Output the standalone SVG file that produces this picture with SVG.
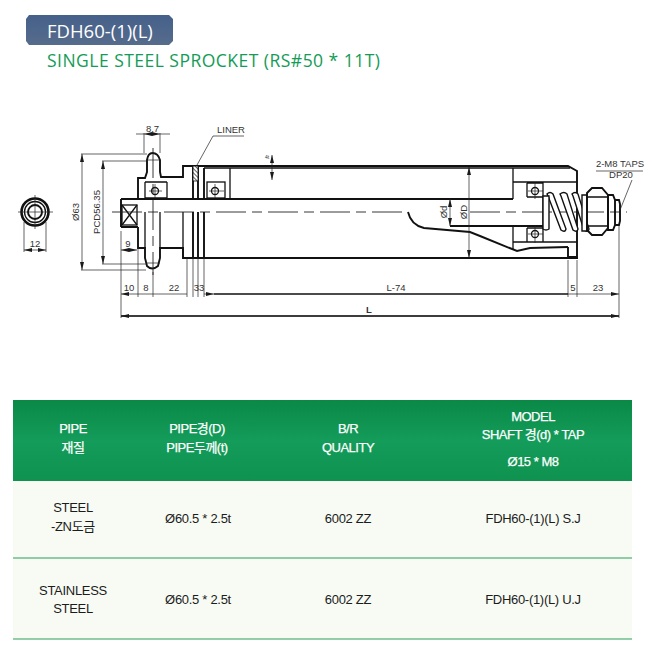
<svg xmlns="http://www.w3.org/2000/svg" width="647" height="655" viewBox="0 0 647 655">
<style>
.l{fill:none;stroke:#111;stroke-width:1.3}
.h{fill:none;stroke:#111;stroke-width:1.9}
.t{fill:none;stroke:#222;stroke-width:.7}
.c{fill:none;stroke:#222;stroke-width:.9;stroke-dasharray:30 6 10 6}
.d{font-family:"Liberation Sans",sans-serif;font-size:9.5px;fill:#333;text-anchor:middle}
.w{font-family:"Liberation Sans","Noto Sans CJK KR",sans-serif;font-size:13px;fill:#fff;text-anchor:middle;letter-spacing:-.5px;stroke:#fff;stroke-width:.25}
.b{font-family:"Liberation Sans","Noto Sans CJK KR",sans-serif;font-size:13px;fill:#1c1c1c;text-anchor:middle;letter-spacing:-.3px}
</style>
<defs>
<linearGradient id="hd" x1="0" y1="0" x2="0" y2="1"><stop offset="0" stop-color="#0a8846"/><stop offset=".5" stop-color="#149c5a"/><stop offset="1" stop-color="#0f9250"/></linearGradient>
<linearGradient id="bg" x1="0" y1="0" x2="0" y2="1"><stop offset="0" stop-color="#45608a"/><stop offset="1" stop-color="#566c8c"/></linearGradient>
<marker id="a" viewBox="0 0 8 4" refX="8" refY="2" markerWidth="8" markerHeight="4" orient="auto-start-reverse" markerUnits="userSpaceOnUse"><path d="M0 0L8 2L0 4z" fill="#1a1a1a"/></marker>
<pattern id="ha" width="3" height="3" patternUnits="userSpaceOnUse" patternTransform="rotate(45)"><rect width="3" height="3" fill="#fff"/><line x1="0" y1="0" x2="3" y2="0" stroke="#111" stroke-width="1.3"/></pattern>
</defs>
<rect width="647" height="655" fill="#fff"/>
<path d="M29 15H169L173 19V41L169 45H29L26 41V19Z" fill="url(#bg)"/>
<text x="47" y="38" font-family="'Open Sans','Noto Sans',sans-serif" font-size="18.500" fill="#fff">FDH60-(1)(L)</text>
<text x="47" y="67" font-family="'Open Sans','Noto Sans',sans-serif" font-size="17.500" fill="#149b57" textLength="333" lengthAdjust="spacing">SINGLE STEEL SPROCKET (RS#50 * 11T)</text>

<g id="end-view">
<circle class="h" cx="35" cy="212" r="13.500" style="stroke-width:2.600"/>
<circle class="l" cx="35" cy="212" r="10.500"/>
<circle class="h" cx="35" cy="212" r="7"/>
<path class="t" d="M18 212H53M35 195V229M24 222V252M46 222V252"/>
<path class="t" d="M24 250H46" marker-start="url(#a)" marker-end="url(#a)"/>
<text class="d" x="35" y="247">12</text>
</g>

<g id="body">
<path class="h" d="M138 199V178H145L147 172V160Q148 153 152.500 153Q158 153 160 160V172L161 177H183V166H193"/>
<path class="h" d="M138 227V248H145V258L147 266Q152 271 158 266L160 258V248H183V258H578"/>
<path class="h" d="M121 199H513M121 227H138M121 199V227"/>
<rect class="l" x="122" y="205" width="15" height="20"/>
<path class="l" d="M122 205L137 225M137 205L122 225"/>
<path class="l" d="M145 182H167M145 198H167M145 182V198M167 182V198M145 248V212M160 248V212M183 212V258"/>
<path class="t" d="M146 160H160M146 263H160"/>
<path class="c" d="M153 148V275"/>
<path class="c" d="M112 212H408"/>
<path class="c" d="M470 212H627"/>
<circle class="l" cx="155" cy="191" r="3.500"/>
<path class="t" d="M155 184V198M149 191H162"/>
<path class="h" d="M193 166H568L577 171V257H568V247M193 166V199M193 212V258M198 166V199M198 212V258M204 168V199M204 212V258"/>
<path class="l" d="M204 168H570M230 168V199M513 168V199M513 226V250"/>
<rect x="193" y="166" width="5" height="15" fill="url(#ha)" stroke="#111" stroke-width=".8"/>
<rect class="l" x="207" y="182" width="18" height="16"/>
<circle class="l" cx="215" cy="191" r="3.500"/>
<path class="t" d="M215 184V198M209 191H224"/>
<path class="h" d="M408 212Q411 225 424 228L470 232L480 236L517 251L530 248L568 247"/>
<path class="h" d="M450 226H543"/>
<path class="l" d="M513 182H577M513 242H577M543 182V242M527 183V197M527 228V242M527 183H543M527 197H543M527 228H543"/>
<circle class="l" cx="535" cy="191" r="3.500"/>
<circle class="l" cx="535" cy="234" r="3.500"/>
<path class="t" d="M535 182V199M528 191H543M535 226V243M528 234H543"/>
<g fill="#fff" stroke="#111" stroke-width="1.400">
<path d="M547 194Q550 191 553 194L566 229Q565 233 561 230L548 196Z"/>
<path d="M560 194Q564 191 567 194L578 229Q577 233 573 230L561 196Z"/>
<path d="M572 194Q575 191 578 194L589 229Q588 233 584 230L573 196Z"/>
<path d="M543 196V229Q546 231 549 229V196Z"/>
<path d="M582 195V231H587V195Z"/>
</g>
<path class="h" fill="#fff" d="M587 193L592 188H602L608 195V228L602 235H592L587 230Z"/>
<path class="l" d="M588 197H608M588 226H608"/>
<path class="h" d="M608 195H613L615 200V225L613 230H608V195M615 200H619L620 204V221L619 225H615"/>
</g>

<g id="dimensions">
<path class="t" d="M144 133V153M160 133V153M81 154H147M81 270H146M102 161H146M102 264H146M121 231V318M138 227V297M153 272V297M187 258V297M193 258V297M198 258V297M204 258V297M568 260V297M577 260V297M619 225V318"/>
<path class="t" d="M136 134H144M160 134H170"/>
<path class="t" d="M144 134H160" marker-start="url(#a)" marker-end="url(#a)"/>
<text class="d" x="152.500" y="132">8.7</text>
<path class="t" d="M82 154V270" marker-start="url(#a)" marker-end="url(#a)"/>
<path class="t" d="M103 161V264" marker-start="url(#a)" marker-end="url(#a)"/>
<text class="d" transform="translate(79 212) rotate(-90)">Ø63</text>
<text class="d" transform="translate(100 212) rotate(-90)">PCD56.35</text>
<path class="t" d="M121 250H137" marker-start="url(#a)" marker-end="url(#a)"/>
<text class="d" x="128" y="247">9</text>
<path class="t" d="M121 294H138M138 294H153M153 294H187M204 294H214" marker-start="url(#a)" marker-end="url(#a)"/>
<path class="l" d="M214 294H568M121 316H619"/>
<path class="t" d="M121 316H619" marker-start="url(#a)" marker-end="url(#a)"/>
<path class="t" d="M568 294H577M577 294H619" marker-end="url(#a)"/>
<text class="d" x="129" y="291">10</text><text class="d" x="146" y="291">8</text><text class="d" x="174" y="291">22</text><text class="d" x="199" y="291">33</text><text class="d" x="396" y="291">L-74</text><text class="d" x="369" y="313" font-weight="bold">L</text><text class="d" x="573" y="291">5</text><text class="d" x="598" y="291">23</text>
<path class="t" d="M197 165L213 136H244"/>
<text class="d" x="231" y="133">LINER</text>
<path class="t" d="M272 155V180" marker-start="url(#a)" marker-end="url(#a)"/>
<text class="d" x="267" y="159" style="font-size:5px">4t</text>
<path class="t" d="M469 167V258" marker-start="url(#a)" marker-end="url(#a)"/>
<path class="t" d="M450 199V226" marker-start="url(#a)" marker-end="url(#a)"/>
<text class="d" transform="translate(447 212) rotate(-90)">Ød</text>
<text class="d" transform="translate(467 212) rotate(-90)">ØD</text>
<text class="d" x="620" y="167" fill="#111">2-M8 TAPS</text>
<text class="d" x="621" y="178" fill="#111">DP20</text>
<path class="t" d="M596 171H643M632 180L620 210"/>
</g>

<g id="table">
<rect x="13" y="481" width="619" height="158" fill="#f7fbf4"/>
<rect x="13" y="400" width="619" height="81" fill="url(#hd)"/>
<path d="M13 558H632M13 639H632" stroke="#2a9f58" stroke-width="1.200" fill="none"/>
<text class="w" x="73" y="433">PIPE</text><text class="w" x="73" y="452">재질</text>
<text class="w" x="197" y="433">PIPE경(D)</text><text class="w" x="197" y="452">PIPE두께(t)</text>
<text class="w" x="348" y="433">B/R</text><text class="w" x="348" y="452">QUALITY</text>
<text class="w" x="533" y="421">MODEL</text><text class="w" x="533" y="439">SHAFT 경(d) * TAP</text><text class="w" x="533" y="466">Ø15 * M8</text>
<text class="b" x="73" y="512">STEEL</text><text class="b" x="73" y="531">-ZN도금</text>
<text class="b" x="198" y="523">Ø60.5 * 2.5t</text><text class="b" x="348" y="523">6002 ZZ</text><text class="b" x="533" y="523">FDH60-(1)(L) S.J</text>
<text class="b" x="73" y="595">STAINLESS</text><text class="b" x="73" y="613">STEEL</text>
<text class="b" x="198" y="604">Ø60.5 * 2.5t</text><text class="b" x="348" y="604">6002 ZZ</text><text class="b" x="533" y="604">FDH60-(1)(L) U.J</text>
</g>
</svg>
